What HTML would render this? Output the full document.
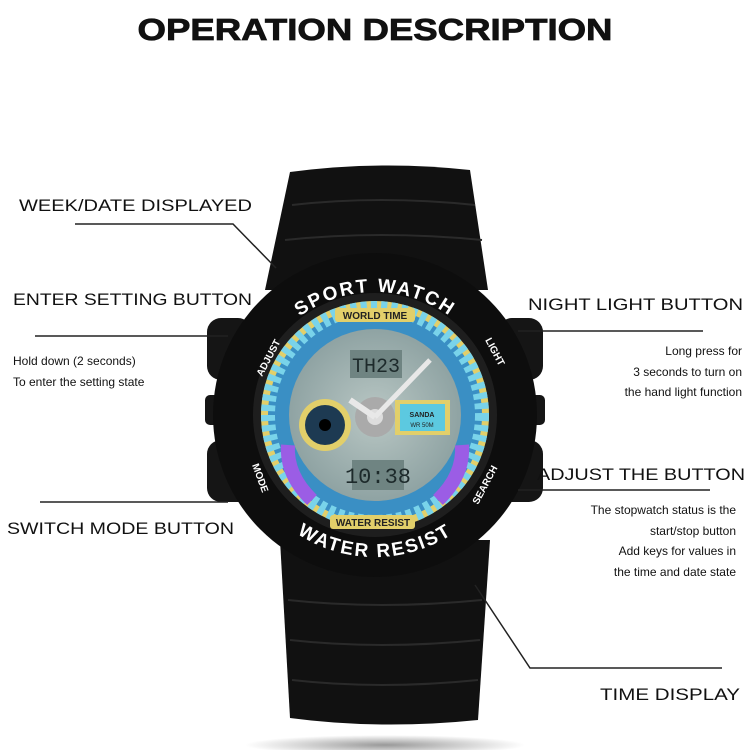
<!DOCTYPE html>
<html><head><meta charset="utf-8"><style>html,body{margin:0;padding:0;background:#fff}svg{display:block}</style></head>
<body>
<svg width="750" height="750" viewBox="0 0 750 750" xmlns="http://www.w3.org/2000/svg" font-family="Liberation Sans, sans-serif">
<defs>
<radialGradient id="sh" cx="0.5" cy="0.5" r="0.5"><stop offset="0" stop-color="#999"/><stop offset="1" stop-color="#fff"/></radialGradient>
<radialGradient id="dial" cx="0.5" cy="0.5" r="0.5"><stop offset="0" stop-color="#b9c7c4"/><stop offset="1" stop-color="#8fa3a3"/></radialGradient>
<path id="topArc" d="M247 420 A128 128 0 0 1 503 420"/>
<path id="botArc" d="M233 415 A142 142 0 0 0 517 415"/>
</defs>
<rect width="750" height="750" fill="#fff"/>
<ellipse cx="385" cy="745" rx="140" ry="10" fill="url(#sh)"/>
<text x="375" y="40" text-anchor="middle" font-size="31" font-weight="bold" textLength="475" lengthAdjust="spacingAndGlyphs" fill="#111" stroke="#111" stroke-width="0.8">OPERATION DESCRIPTION</text>
<!-- strap -->
<path d="M290 172 Q380 160 470 170 L488 290 L265 290 Z" fill="#111"/>
<path d="M280 540 L490 540 L478 720 Q380 730 290 718 Z" fill="#111"/>
<g stroke="#2a2a2a" stroke-width="2" fill="none">
<path d="M292 205 Q380 195 475 205"/><path d="M285 240 Q380 230 482 240"/>
<path d="M288 600 Q380 610 482 600"/><path d="M290 640 Q380 650 480 640"/><path d="M292 680 Q380 690 478 680"/>
</g>
<!-- buttons -->
<rect x="207" y="318" width="45" height="62" rx="14" fill="#151515"/>
<rect x="207" y="440" width="45" height="62" rx="14" fill="#151515"/>
<rect x="498" y="318" width="45" height="62" rx="14" fill="#151515"/>
<rect x="498" y="440" width="45" height="62" rx="14" fill="#151515"/>
<rect x="205" y="395" width="20" height="30" rx="5" fill="#151515"/>
<rect x="525" y="395" width="20" height="30" rx="5" fill="#151515"/>
<!-- case -->
<circle cx="375" cy="415" r="162" fill="#0d0d0d"/>
<circle cx="375" cy="415" r="122" fill="#1e1e1e"/>
<circle cx="375" cy="415" r="114" fill="#e2cf6a"/>
<circle cx="375" cy="415" r="107" fill="#3a8fc4"/>
<circle cx="375" cy="415" r="107" fill="none" stroke="#79d3ea" stroke-width="14" stroke-dasharray="6 4"/>
<circle cx="375" cy="415" r="86" fill="url(#dial)"/>
<rect x="350" y="350" width="52" height="28" fill="#6f8482"/>
<text x="376" y="372" text-anchor="middle" font-size="20" fill="#1d2a2b" font-family="Liberation Mono, monospace">TH23</text>
<rect x="352" y="460" width="52" height="30" fill="#6f8482"/>
<text x="378" y="483" text-anchor="middle" font-size="22" fill="#1d2a2b" font-family="Liberation Mono, monospace">10:38</text>
<rect x="395" y="400" width="55" height="35" fill="#e2cf6a"/>
<rect x="400" y="404" width="45" height="27" fill="#5cc9e0"/>
<text x="422" y="417" text-anchor="middle" font-size="7" font-weight="bold" fill="#222">SANDA</text>
<text x="422" y="427" text-anchor="middle" font-size="6" fill="#222">WR 50M</text>
<circle cx="325" cy="425" r="26" fill="#e2cf6a"/><circle cx="325" cy="425" r="20" fill="#1d3a52"/><circle cx="325" cy="425" r="6" fill="#000"/>
<circle cx="375" cy="417" r="20" fill="#aaa"/><circle cx="375" cy="417" r="8" fill="#ddd"/>
<path d="M375 417 L430 360" stroke="#e8e8e8" stroke-width="5"/>
<path d="M375 417 L350 400" stroke="#e8e8e8" stroke-width="6"/>
<path d="M462 445 Q464 475 438 500" stroke="#9b5de5" stroke-width="14" fill="none"/>
<path d="M288 445 Q286 475 312 500" stroke="#9b5de5" stroke-width="14" fill="none"/>
<rect x="335" y="308" width="80" height="14" rx="3" fill="#e2cf6a"/>
<text x="375" y="319" text-anchor="middle" font-size="10" font-weight="bold" fill="#222">WORLD TIME</text>
<rect x="330" y="515" width="85" height="14" rx="3" fill="#e2cf6a"/>
<text x="373" y="526" text-anchor="middle" font-size="10" font-weight="bold" fill="#222">WATER RESIST</text>
<g fill="#fff" font-weight="bold">
<text font-size="19" letter-spacing="2"><textPath href="#topArc" startOffset="50%" text-anchor="middle">SPORT WATCH</textPath></text>
<text font-size="19" letter-spacing="2"><textPath href="#botArc" startOffset="50%" text-anchor="middle">WATER RESIST</textPath></text>
<text x="262" y="377" font-size="10" transform="rotate(-62 262 377)">ADJUST</text>
<text x="252" y="465" font-size="10" transform="rotate(70 252 465)">MODE</text>
<text x="485" y="340" font-size="10" transform="rotate(62 485 340)">LIGHT</text>
<text x="478" y="505" font-size="10" transform="rotate(-62 478 505)">SEARCH</text>
</g>
<!-- connectors -->
<g stroke="#222" stroke-width="1.5" fill="none">
<path d="M75 224 L233 224 L276 268"/>
<path d="M35 336 L228 336"/>
<path d="M40 502 L228 502"/>
<path d="M518 331 L703 331"/>
<path d="M518 490 L710 490"/>
<path d="M475 585 L530 668 L722 668"/>
</g>
<g fill="#111">
<text x="19" y="211" font-size="17" textLength="233" lengthAdjust="spacingAndGlyphs">WEEK/DATE DISPLAYED</text>
<text x="13" y="305" font-size="17" textLength="239" lengthAdjust="spacingAndGlyphs">ENTER SETTING BUTTON</text>
<text x="13" y="365" font-size="12">Hold down (2 seconds)</text>
<text x="13" y="386" font-size="12">To enter the setting state</text>
<text x="7" y="534" font-size="17" textLength="227" lengthAdjust="spacingAndGlyphs">SWITCH MODE BUTTON</text>
<text x="528" y="310" font-size="17" textLength="215" lengthAdjust="spacingAndGlyphs">NIGHT LIGHT BUTTON</text>
<g font-size="12" text-anchor="end"><text x="742" y="355">Long press for</text><text x="742" y="376">3 seconds to turn on</text><text x="742" y="396">the hand light function</text></g>
<text x="537" y="480" font-size="17" textLength="208" lengthAdjust="spacingAndGlyphs">ADJUST THE BUTTON</text>
<g font-size="12" text-anchor="end"><text x="736" y="514">The stopwatch status is the</text><text x="736" y="535">start/stop button</text><text x="736" y="555">Add keys for values in</text><text x="736" y="576">the time and date state</text></g>
<text x="600" y="700" font-size="17" textLength="140" lengthAdjust="spacingAndGlyphs">TIME DISPLAY</text>
</g>
</svg>
</body></html>
